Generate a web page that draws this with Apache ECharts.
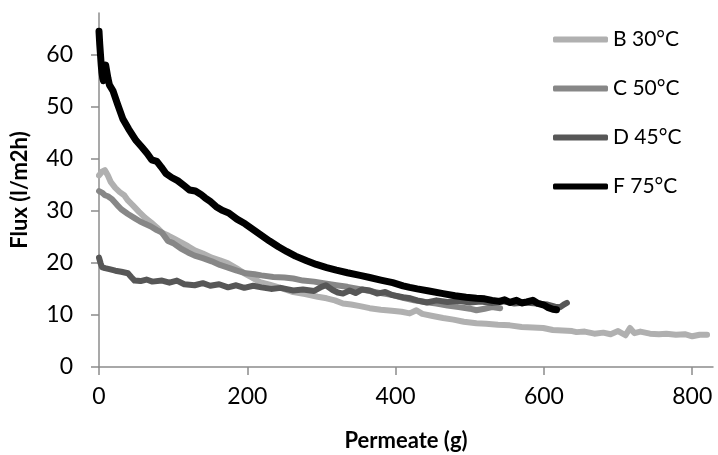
<!DOCTYPE html>
<html>
<head>
<meta charset="utf-8">
<script src="https://cdn.jsdelivr.net/npm/echarts@6/dist/echarts.min.js"></script>
<style>html,body{margin:0;padding:0;background:#fff}#c{width:718px;height:455px}</style>
</head>
<body>
<div id="c"></div>
<script>
var seriesNames = ['B 30°C', 'C 50°C', 'D 45°C', 'F 75°C'];
var xTicks = [0, 200, 400, 600, 800];
var yTicks = [0, 10, 20, 30, 40, 50, 60];

var dataB = [[0,36.8],[4,37.5],[8,37.8],[12,36.8],[16,35.5],[22,34.4],[28,33.6],[34,33],[39,32],[46,31],[54,29.8],[62,28.7],[70,27.8],[78,26.8],[85,25.8],[94,25.2],[102,24.6],[110,24],[120,23.2],[129,22.4],[140,21.8],[152,21],[163,20.5],[174,19.9],[185,19],[196,18],[206,17.2],[217,16.3],[230,15.8],[245,15.2],[262,14.4],[278,14],[295,13.5],[307,13.2],[318,12.8],[329,12.2],[340,12],[352,11.7],[365,11.3],[380,11],[395,10.8],[408,10.6],[419,10.3],[428,10.9],[436,10.2],[450,9.8],[464,9.4],[478,9.1],[492,8.7],[509,8.4],[522,8.3],[538,8.1],[554,8],[570,7.7],[585,7.6],[599,7.5],[612,7.1],[625,7.0],[638,6.9],[644,6.7],[655,6.8],[668,6.4],[680,6.6],[690,6.3],[700,6.9],[710,6.1],[716,7.5],[722,6.5],[730,6.8],[743,6.4],[755,6.3],[765,6.4],[778,6.2],[790,6.3],[800,5.9],[810,6.2],[820,6.2]];

var dataC = [[0,33.8],[4,33.5],[8,33],[12,32.8],[17,32.3],[24,31.2],[30,30.3],[39,29.4],[48,28.6],[55,28],[62,27.5],[70,27],[78,26.3],[85,25.8],[93,24.2],[100,23.8],[110,22.8],[120,22],[129,21.4],[140,20.9],[152,20.3],[163,19.6],[174,19.1],[186,18.5],[198,18],[210,17.8],[219,17.6],[235,17.3],[250,17.2],[262,17],[275,16.6],[290,16.4],[307,16],[320,15.7],[335,15.4],[350,15],[365,14.6],[380,14.2],[396,13.8],[410,13.3],[425,12.8],[440,12.5],[455,12.2],[470,11.8],[485,11.5],[500,11.2],[509,10.9],[520,11.2],[530,11.5],[541,11.3]];

var dataD = [[0,21],[2,20],[4,19.2],[8,19],[14,18.8],[22,18.5],[30,18.3],[39,18],[44,17.2],[48,16.6],[56,16.5],[64,16.8],[72,16.4],[85,16.6],[95,16.2],[105,16.6],[115,15.9],[129,15.7],[140,16.1],[150,15.6],[162,15.9],[174,15.3],[185,15.7],[196,15.2],[208,15.6],[219,15.3],[232,15],[245,15.2],[262,14.7],[275,14.9],[290,14.6],[300,15.4],[306,15.7],[315,14.8],[322,14.3],[329,14.1],[338,14.7],[346,14.2],[355,14.9],[365,14.7],[375,14.1],[386,14.4],[396,13.8],[410,13.4],[420,13.2],[429,12.8],[442,12.4],[455,12.8],[470,12.5],[485,12.7],[500,12.4],[515,12.6],[530,12.3],[545,12.6],[560,12.2],[575,12.4],[590,12.2],[605,12],[615,11.6],[622,11.5],[627,12],[631,12.3]];

var dataF = [[0,64.5],[1,62],[2,60],[3,58],[4,56.5],[5,55.5],[6,55],[7,57.5],[9,58],[11,57.8],[12,55.5],[14,54.2],[19,53],[25,50.5],[32,47.7],[40,45.7],[50,43.5],[58,42.2],[65,41],[71,39.8],[78,39.5],[84,38.4],[90,37.2],[98,36.4],[106,35.8],[115,34.8],[122,34],[130,33.8],[137,33.2],[143,32.5],[150,31.8],[158,30.8],[166,30.1],[175,29.6],[186,28.4],[197,27.5],[208,26.4],[219,25.3],[230,24.2],[242,23.1],[253,22.2],[265,21.3],[280,20.4],[293,19.7],[307,19.1],[320,18.6],[335,18.1],[352,17.6],[365,17.2],[380,16.7],[396,16.2],[410,15.6],[419,15.3],[429,15],[445,14.6],[464,14.1],[480,13.7],[495,13.4],[509,13.2],[520,13.1],[530,12.8],[540,12.6],[547,12.9],[554,12.4],[563,12.8],[570,12.3],[577,12.5],[585,12.8],[592,12.2],[600,11.9],[606,11.4],[612,11.1],[617,11]];

var colors = ['#b0b0b0', '#878787', '#575757', '#000000'];
var widths = [6, 6, 6, 7];
var datas = [dataB, dataC, dataD, dataF];

var FONT = 'Lato';
var chart = echarts.init(document.getElementById('c'), null, {renderer: 'canvas'});
var axisLineStyle = {color: '#8c8c8c', width: 1.5};

chart.setOption({
  animation: false,
  backgroundColor: '#ffffff',
  grid: {left: 99, right: 5, top: 13, bottom: 88, containLabel: false, outerBoundsMode: 'none'},
  legend: {
    orient: 'vertical',
    left: 553,
    top: 29,
    padding: 0,
    itemWidth: 55,
    itemHeight: 6,
    itemGap: 28,
    icon: 'roundRect',
    data: seriesNames,
    textStyle: {fontFamily: FONT, fontSize: 21, color: '#000', lineHeight: 20}
  },
  xAxis: {
    type: 'value',
    min: 0,
    max: 828,
    interval: 200,
    name: 'Permeate (g)',
    nameLocation: 'middle',
    nameGap: 63,
    nameTextStyle: {fontFamily: FONT, fontSize: 22, fontWeight: 'bold', color: '#000'},
    axisLine: {show: true, onZero: false, lineStyle: axisLineStyle},
    axisTick: {show: true, length: 8, inside: false, customValues: xTicks, lineStyle: axisLineStyle},
    axisLabel: {fontFamily: FONT, fontSize: 23, color: '#000', margin: 18, customValues: xTicks},
    splitLine: {show: false}
  },
  yAxis: {
    type: 'value',
    min: 0,
    max: 68,
    interval: 10,
    name: 'Flux (l/m2h)',
    nameLocation: 'middle',
    nameGap: 68,
    nameRotate: 90,
    nameTextStyle: {fontFamily: FONT, fontSize: 22, fontWeight: 'bold', color: '#000'},
    axisLine: {show: true, lineStyle: axisLineStyle},
    axisTick: {show: true, length: 8, inside: false, customValues: yTicks, lineStyle: axisLineStyle},
    axisLabel: {fontFamily: FONT, fontSize: 23, color: '#000', margin: 26, customValues: yTicks},
    splitLine: {show: false}
  },
  series: seriesNames.map(function (n, i) {
    return {
      name: n,
      type: 'line',
      data: datas[i],
      showSymbol: false,
      symbol: 'none',
      smooth: false,
      color: colors[i],
      lineStyle: {color: colors[i], width: widths[i], cap: 'round', join: 'round'},
      z: 2 + i
    };
  })
});
</script>
</body>
</html>
